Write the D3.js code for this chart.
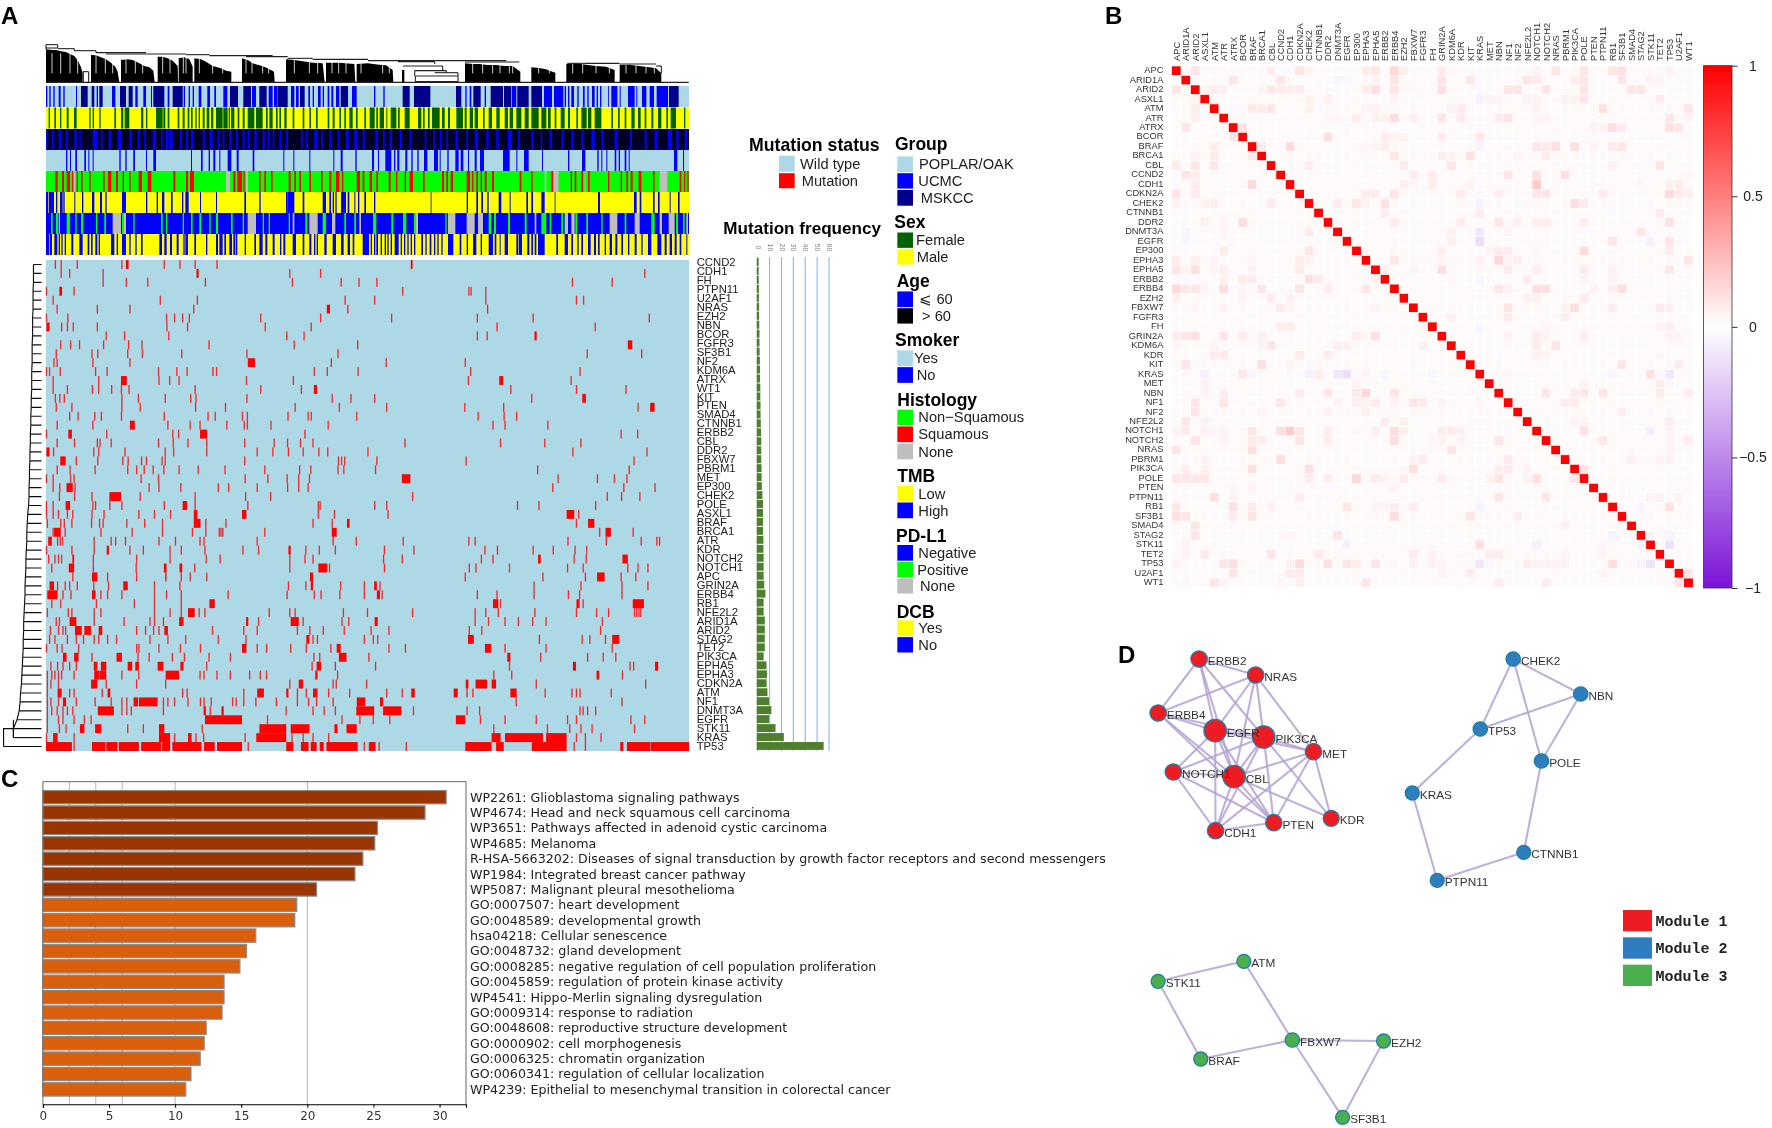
<!DOCTYPE html>
<html><head><meta charset="utf-8">
<script src="https://cdnjs.cloudflare.com/ajax/libs/d3/7.8.5/d3.min.js"></script>
<style>html,body{margin:0;padding:0;background:#fff}svg{display:block}text{font-family:"Liberation Sans",Arial,sans-serif}</style>
</head><body><svg id="c" width="1772" height="1128"></svg>
<script>
// ---------- Panel A data ----------
const heatGenes=["CCND2","CDH1","FH","PTPN11","U2AF1","NRAS","EZH2","NBN","BCOR","FGFR3","SF3B1","NF2","KDM6A","ATRX","WT1","KIT","PTEN","SMAD4","CTNNB1","ERBB2","CBL","DDR2","FBXW7","PBRM1","MET","EP300","CHEK2","POLE","ASXL1","BRAF","BRCA1","ATR","KDR","NOTCH2","NOTCH1","APC","GRIN2A","ERBB4","RB1","NFE2L2","ARID1A","ARID2","STAG2","TET2","PIK3CA","EPHA5","EPHA3","CDKN2A","ATM","NF1","DNMT3A","EGFR","STK11","KRAS","TP53"];
const mutationFreq=[.8,.8,.9,1,1,1.2,1.2,1.3,1.5,1.5,1.6,1.8,2,2,2.2,2.2,2.4,2.4,2.6,2.8,3,3,3,3.2,3.3,3.5,4,4.5,4.5,4.5,4.5,4.8,4.8,5,5,5,5.5,6.5,5,5,6,6,6,6,5,7.4,7.8,7.5,8.2,9.5,11.5,9.5,15,22,55.5];
const freqTicks=[0,10,20,30,40,50,60];
// sample positions along the ordered cohort; a number is one sample, a pair is a run of samples
const mutationRuns=[
[123,136,172,272,[281,287],367,402,436,485,[919,923]],
[136,155,230,[439,444],648,717,1443],
[230,282,330,459,654,763,803,843,1281,1370],
[103,[132,138],165,901,1049,1054,1087],
[118,358,441,772,838,1087,1290,1306],
[127,217,290,433,[731,738],778,1091],
[103,151,372,390,408,423,583,717,876,1068,1193,1453],
[[103,110],137,150,163,217,373,419,593,696,1112,1332],
[237,278,377,641,680,1068,1090,[1196,1201]],
[135,157,177,231,287,317,467,658,800,[1405,1415]],
[125,205,218,285,318,406,552,756,1314,1436],
[120,127,207,290,[554,570],741,864,1041],
[103,110,134,213,239,354,395,418,476,484,703,732,801,1053,1298],
[118,220,[270,283],355,379,400,551,656,1048,[1117,1126],1278],
[118,150,206,220,249,271,288,436,583,674,[702,709],1143,1290,1401],
[123,133,143,272,309,369,426,438,552,743,785,838,1190,[1303,1311]],
[125,160,272,313,437,504,660,759,865,1040,1127,1428,[1455,1465]],
[155,174,211,226,271,367,465,481,542,553,644,689,696,798,1070,1128,1156],
[127,207,[290,301],375,425,447,507,546,553,606,734,1103,1130,1226],
[103,[152,160],238,386,399,[447,463],682,1390,1427],
[127,166,217,223,248,354,387,420,462,547,613,643,672,700,906,1120,1219,1300],
[[103,110],119,209,220,279,369,388,462,575,610,645,678,713,733,823,1282,1448],
[[134,146],170,218,274,286,316,327,362,369,547,757,764,771,843,1043,1419],
[127,156,212,285,305,322,342,366,400,443,503,592,670,695,756,769,840,1203,1408],
[103,118,157,165,315,354,548,599,642,668,692,[899,918],1249,1337,1375,1403],
[118,133,[148,162],167,333,355,404,488,511,575,643,668,689,1237,1396,1466],
[132,166,205,[244,270],313,436,549,605,923,1359,1391,1432],
[103,118,[146,156],207,213,245,272,367,[408,418],436,554,712,716,838,865,1158,1206,1333],
[103,118,130,150,162,205,232,310,345,381,[433,441],[541,551],712,748,868,[1268,1285],1295],
[105,135,143,160,204,222,230,283,323,363,[433,448],460,505,700,743,[776,782],[1316,1330],1290],
[118,[120,135],145,225,295,363,430,460,490,494,498,592,[742,753],1342,[1355,1367],1417],
[[107,115],128,134,139,210,248,258,280,355,392,447,456,575,745,797,902,1049,1063,1271,1357,1435,1470,1476],
[103,160,210,[238,243],290,320,380,405,458,543,578,[645,650],684,714,750,860,926,1085,1113,1193,1238,1287,1313],
[108,122,130,137,[161,165],208,305,380,461,492,648,682,700,858,900,1077,1103,[1204,1210],1285,1312,[1393,1405]],
[115,[153,165],208,304,[366,372],[401,407],435,648,[712,732],737,860,1050,1065,1140,1270,1305,1405,1428,1450],
[162,[205,217],240,305,[369,372],405,425,462,[693,700],1041,1215,[1336,1353],1423,1390,1310],
[[110,120],128,145,155,172,209,242,[275,285],345,402,645,684,[695,700],762,815,[837,843],850,1195,1300,1392,1450],
[[105,128],140,158,[205,213],225,240,272,345,372,405,510,642,703,718,760,815,[843,850],855,1068,1112,1195,1272,1297,1392],
[115,135,215,300,345,405,[468,480],[1103,1115],1120,[1290,1297],1305,[1416,1441]],
[105,152,160,210,225,345,380,405,[420,435],445,458,602,648,660,768,822,923,1063,1087,1115,1197,1290,1335,1362,1420,1425,1430,1434],
[125,132,[155,170],210,277,335,345,365,[400,410],[550,555],578,[650,668],678,765,780,[838,845],1063,1093,1130,1160,1192,1222,1348],
[112,130,140,146,[167,182],[188,203],[220,228],305,325,343,355,[367,375],475,545,575,665,693,723,770,830,870,1050,1078,1344],
[110,122,150,170,186,210,220,240,260,335,375,415,488,550,[685,692],700,710,815,835,845,[1047,1060],1207,1303,1320,1355,[1370,1386]],
[103,127,138,175,305,310,355,403,448,[541,551],575,596,650,685,740,[753,762],870,907,[1085,1099],1130,1222,1370],
[[140,148],[165,175],205,[260,272],308,333,385,412,467,515,702,715,[758,775],825,[1135,1142],1210,1315,1350,1378],
[113,128,140,155,170,[209,217],[225,237],[285,295],[302,310],[352,365],[403,410],462,698,[708,718],750,840,1140,[1282,1289],1410,1418,[1466,1473]],
[105,115,122,130,137,165,[210,222],[223,237],272,310,[370,400],447,456,485,515,558,582,596,[705,710],755,1105,1145,[1335,1341],1393],
[105,113,130,[203,217],237,305,370,648,[668,678],745,752,820,[1042,1048],[1064,1090],[1100,1110],1200,1445],
[105,[128,137],155,165,228,[240,246],408,418,545,[575,590],[640,645],665,685,[700,710],735,782,865,900,[920,928],[1015,1024],1045,1058,[1142,1156],1220,1280,1290,1298,1368],
[105,113,130,[140,147],170,212,248,272,283,[298,308],[310,352],365,375,390,420,448,456,472,520,528,545,572,618,665,690,708,745,[798,817],[850,857],1155,1392],
[105,115,127,140,150,162,[218,254],272,283,293,365,[455,460],470,[495,500],640,700,725,750,[797,837],[857,898],925,1045,1073,1298,1305,1315,1333],
[105,130,140,165,188,203,[458,541],598,765,805,835,872,[1020,1041],1075,1130,1200,1270,1290,1412,1443],
[105,132,147,[178,188],[212,226],285,320,[355,367],452,[580,640],[650,692],[748,755],[775,798],1105,1225,1275,1300,1325,1420],
[103,[118,128],165,[355,380],390,[420,428],438,455,548,[573,640],653,678,700,735,[1100,1120],[1130,1215],[1222,1268],1290,1310,1345],
[[102,160],165,[205,235],[237,262],[265,310],[315,360],[362,380],[385,450],[456,480],[485,541],555,[640,656],[673,690],[695,708],[715,724],[730,800],815,[825,840],848,909,[1041,1100],[1110,1127],[1190,1268],1285,1310,[1388,1395],[1403,1455],[1456,1542]]
];
const rowMerge=[75,75,75,74,74,74,73,73,73,72,72,72,71,71,71,70,70,69,69,68,68,67,67,66,66,65,65,64,62,61,60,60,59,58,58,57,56,56,55,54,53,53,52,52,51,50,49,48,46,45,43,38,30,30,8];

// annotation stripes: start,end pairs, left half then right half of the cohort
const groupNavyL=[105,125,137,145,160,170,222,240,248,260,322,355,380,410,552,576,592,615,640,662,696,725,762,776,884,906];
const groupNavyR=[104,125,138,187,264,280,316,338,368,405,408,430,448,482,490,522,903,932];
const groupBlueL=[0,4,10,14,22,26,38,44,52,56,90,93,152,156,198,208,268,275,292,300,315,318,365,370,413,417,428,432,440,444,458,466,484,492,505,510,532,544,618,630,668,680,684,695,735,745,750,758,787,792,800,804,816,824,830,834,845,850,856,862,870,880,918,932];
const groupBlueR=[18,22,46,50,292,296,305,310,350,354,432,445,528,552,558,586,590,594,600,604,610,618,628,632,645,650,658,662,672,680,686,690,696,700,720,722,730,748,755,758,780,800,805,808,822,835,845,858,866,900];
const sexL=[8,12,25,30,42,46,62,68,84,92,130,134,140,144,160,164,205,210,225,232,236,250,285,292,300,304,330,350,352,358,365,370,395,400,410,416,425,430,435,440,448,452,458,462,470,476,482,490,495,502,510,530,532,545,548,552,555,565,575,580,590,596,605,625,630,650,660,665,670,680,690,695,700,705,715,722,740,745,770,775,790,795,810,815,845,850,860,866,880,885,895,900,910,920,930,935,955,960];
const sexR=[5,20,25,30,35,48,55,58,68,85,90,95,110,125,150,160,165,170,180,185,192,215,222,230,240,246,265,285,290,296,305,315,320,330,345,350,362,372,385,395,410,420,425,435,445,460,470,482,490,512,520,535,540,548,560,565,578,590,600,606,625,630,640,656,660,670,680,700,730,735,750,755,770,775,790,800,810,818,830,835,850,856,870,880,895,900,908,924,948,952];
const ageL=[0,5,18,22,38,45,60,65,85,92,100,104,140,154,165,170,188,195,215,225,250,258,275,282,295,300,320,330,345,350,360,368,372,380,402,408,420,426,435,442,470,476,490,500,515,520,530,535,550,556,570,576,590,596,605,610,625,632,650,656,665,670,680,685,700,706,720,726,765,770,780,785,805,815,825,830,850,856,875,880,900,908,925,935,950,956];
const ageR=[22,30,45,50,65,72,95,102,125,130,170,175,195,200,215,220,235,240,262,270,295,300,320,330,355,362,385,392,420,432,450,456,490,495,518,522,545,552,580,586,610,616,640,646,670,680,700,706,740,748,785,792,830,836,860,868,900,912,925,932,950,958];
const smokerL=[60,64,72,75,88,93,115,120,127,130,140,143,220,224,238,242,262,267,300,303,322,330,435,438,465,470,488,492,502,508,520,523,545,556,572,578,620,625,712,715,742,745,790,793,862,865,884,890,928,932];
const smokerR=[12,18,30,33,52,70,78,82,88,94,112,118,130,134,148,152,168,178,198,210,215,218,238,242,262,272,278,286,300,303,320,326,336,348,405,425,445,448,468,482,522,525,600,604,642,652,688,692,700,703,715,718,740,745,752,756,770,775,782,785,918,928,945,948];
const histRedL=[28,35,48,54,62,72,78,84,92,96,105,110,130,134,172,176,186,196,210,216,230,234,250,254,278,288,305,316,382,388,420,426,432,444,562,568,574,588,592,596,640,644,655,660,675,680,728,734,745,750,760,765,790,795,825,830,850,856,870,880,888,892,932,942,950,955];
const histRedR=[5,12,25,30,62,68,84,88,110,114,125,135,165,170,222,228,235,240,248,255,296,306,312,316,325,330,338,342,350,356,372,378,455,460,490,494,550,556,608,612,620,625,640,645,660,665,720,724,758,762,775,780,788,794,812,820,855,860,935,940,948,952,958,962];
const histGrayL=[82,88,540,552,600,606];
const histGrayR=[530,535,556,572,650,652,875,898];
const tmbL=[0,6,8,24,30,34,42,50,52,56,85,88,108,112,138,145,162,168,178,182,228,240,300,304,332,336,348,355,375,380,408,412,418,428,462,465,510,513,595,600,640,644,720,724,724,745,770,775,830,840,850,855,860,864,868,872,885,900,905,910,925,928,936,940,955,960];
const tmbR=[18,22,188,190,296,300,325,330,340,345,358,362,392,400,425,428,475,480,490,495,520,530,560,562,690,696,798,806,815,820,855,860,870,875,905,908,930,935];
const pdGreenL=[15,20,30,36,62,72,88,92,105,112,150,154,175,180,208,212,228,232,262,266,345,350,360,364,410,414,435,440,460,466,490,494,510,516,555,560,590,594,610,622,650,654,668,672,728,732,778,784,830,840,895,900,925,930];
const pdGreenR=[15,25,70,76,105,115,138,142,232,236,300,308,362,370,378,384,420,426,470,476,520,535,545,550,580,585,622,628,655,660,700,704,740,744,770,775,850,860,924,930,945,950];
const pdGrayL=[38,42,200,225,232,240,605,630,740,745,790,815,858,868,940,945];
const pdGrayR=[142,150,240,262,296,320,330,345,500,505,590,600,610,620,725,748,800,815,875,882,902,920,955,960];
const dcbL=[0,10,12,18,25,30,30,34,38,42,46,50,56,60,76,82,100,110,125,130,135,140,148,154,158,162,195,205,212,216,228,240,250,254,268,272,285,290,340,348,355,362,372,378,392,398,412,416,418,426,445,450,480,484,510,516,520,530,535,540,550,558,562,568,570,574,596,600,625,630,640,650,658,664,680,686,702,706,712,718,740,750,770,775,790,796,804,808,812,816,835,842,860,870,885,893,905,912,920,925,950,966];
const dcbR=[0,3,8,12,18,22,25,30,38,42,50,54,58,62,68,72,80,92,98,102,108,112,118,122,128,132,138,142,160,165,172,176,185,190,198,202,208,212,220,224,240,256,275,280,296,300,315,325,338,342,362,375,380,385,395,398,410,420,445,450,452,462,478,484,490,495,500,505,510,530,565,570,590,600,610,615,628,632,640,645,660,668,678,684,690,695,710,714,725,732,742,748,760,765,780,784,800,806,820,824,840,850,868,880,890,896,905,912,920,926,935,940,955,958];
const tracks=[
 {base:"#add8e6",layers:[["#0000ff",groupBlueL,groupBlueR],["#00008b",groupNavyL,groupNavyR]]},
 {base:"#ffff00",layers:[["#006400",sexL,sexR]]},
 {base:"#000028",layers:[["#0000ff",ageL,ageR]]},
 {base:"#add8e6",layers:[["#0000ff",smokerL,smokerR]]},
 {base:"#00ff00",layers:[["#ff0000",histRedL,histRedR],["#bebebe",histGrayL,histGrayR]]},
 {base:"#ffff00",layers:[["#0000ff",tmbL,tmbR]]},
 {base:"#0000ff",layers:[["#00ff00",pdGreenL,pdGreenR],["#bebebe",pdGrayL,pdGrayR]]},
 {base:"#ffff00",layers:[["#0000ff",dcbL,dcbR]]}
];
// column dendrogram: top profile of each black cluster (x,height pairs, half-cohort units, 1932 = full width)
const dendroMasses=[
 [0,28,18,30,30,30,45,34,60,36,72,42,85,48,96,62,105,82,110,100,110,127,0,127],
 [135,45,150,46,165,52,180,58,195,68,208,80,215,95,220,127,135,127],
 [225,60,245,58,260,60,280,70,295,78,310,82,322,92,326,127,225,127],
 [335,50,350,50,365,55,380,62,395,78,396,127,335,127],
 [398,55,415,52,430,58,440,80,440,127,398,127],
 [445,55,465,58,480,65,500,78,525,85,540,92,556,95,556,127,445,127],
 [588,55,605,60,620,70,648,78,665,85,684,95,686,127,588,127],
 [720,58,745,60,770,64,800,68,830,70,836,127,720,127],
 [840,68,880,68,925,72,928,127,840,127],
 [932,72,965,70,1000,74,1020,76,1040,90,1042,127,932,127],
 [1068,90,1075,90,1075,127,1068,127],
 [1257,70,1280,72,1300,72,1325,75,1350,75,1375,78,1400,78,1423,95,1423,127,1257,127],
 [1456,82,1480,84,1500,88,1515,94,1528,98,1528,127,1456,127],
 [1561,72,1590,70,1620,74,1650,78,1680,80,1706,90,1706,127,1561,127],
 [1721,75,1750,74,1780,78,1810,82,1830,85,1846,100,1846,127,1721,127]
];
const dendroLinks=[
 [0,14,35,14],[0,14,0,28],[35,14,35,24],[0,24,35,24],[35,26,85,26],[85,26,85,32],[85,32,150,32],[150,32,150,38],[110,95,128,95],[128,95,128,127],[112,95,112,127],
 [150,38,300,38],[180,42,420,42],[420,44,490,44],[490,47,680,47],[600,50,725,50],[725,55,800,55],[800,58,966,58],[966,62,1381,62],[1056,65,1166,65],[1166,65,1166,72],
 [1071,78,1190,78],[1190,78,1190,92],[1106,92,1201,92],[1166,98,1236,98],[1236,98,1236,127],[1108,108,1236,108],[1108,108,1108,125],[1108,125,1236,125],[1106,92,1106,108],[1201,92,1201,98],
 [1564,70,1620,70],[1620,70,1720,70],[1720,72,1830,72],[1830,78,1846,78],[1846,78,1846,100],[0,127,1928,127],[1257,66,1420,66]
];
const dendroGaps=[18,44,72,95,112,150,178,200,240,268,290,350,372,412,420,460,500,530,600,618,650,668,745,790,815,858,878,900,945,1010,1030,1100,1280,1310,1340,1362,1390,1400,1478,1510,1580,1610,1650,1690,1740,1770,1800,1825];
const legendBlocks=[
 {title:"Group",tx:645,ty:85,items:[["POPLAR/OAK","#add8e6",102,146,717],["UCMC","#0000ff",149,192,715],["MSKCC","#00008b",196,240,722]]},
 {title:"Sex",tx:643,ty:303,items:[["Female","#006400",315,358,708],["Male","#ffff00",362,405,710]]},
 {title:"Age",tx:650,ty:467,items:[["⩽ 60","#0000ff",480,524,718],["> 60","#000000",527,570,726]]},
 {title:"Smoker",tx:645,ty:632,items:[["Yes","#add8e6",645,689,702],["No","#0000ff",692,736,710]]},
 {title:"Histology",tx:652,ty:802,items:[["Non−Squamous","#00ff00",811,854,715],["Squamous","#ff0000",858,902,715],["None","#bebebe",906,950,715]]},
 {title:"TMB",tx:652,ty:1014,items:[["Low","#ffff00",1024,1068,715],["High","#0000ff",1071,1115,715]]},
 {title:"PD-L1",tx:648,ty:1182,items:[["Negative","#0000ff",1190,1234,715],["Positive","#00ff00",1237,1281,712],["None","#bebebe",1284,1326,720]]},
 {title:"DCB",tx:650,ty:1393,items:[["Yes","#ffff00",1401,1445,715],["No","#0000ff",1448,1491,715]]}
];

// ---------- Panel B data ----------
const corrGenes=["APC","ARID1A","ARID2","ASXL1","ATM","ATR","ATRX","BCOR","BRAF","BRCA1","CBL","CCND2","CDH1","CDKN2A","CHEK2","CTNNB1","DDR2","DNMT3A","EGFR","EP300","EPHA3","EPHA5","ERBB2","ERBB4","EZH2","FBXW7","FGFR3","FH","GRIN2A","KDM6A","KDR","KIT","KRAS","MET","NBN","NF1","NF2","NFE2L2","NOTCH1","NOTCH2","NRAS","PBRM1","PIK3CA","POLE","PTEN","PTPN11","RB1","SF3B1","SMAD4","STAG2","STK11","TET2","TP53","U2AF1","WT1"];
const corrBackground=0.02;
// upper triangle, by row: column index, correlation, column index, correlation ...
const corrUpper=[
[2,.1,10,.07,11,-.02,12,-.02,13,.1,14,.05,20,.08,21,.1,23,.15,24,.06,28,.08,29,.03,30,.02,32,-.02,38,.05,40,.1,43,.1,46,.1,47,.12,52,.05],
[6,.1,11,.1,17,-.05,18,-.04,21,.05,23,.1,28,.1,31,.1,37,.1,38,.08,42,.07,43,.1,47,.1,50,.05,51,.05,54,-.03],
[3,.05,4,.07,5,.06,9,.05,10,.1,11,.08,12,.07,13,.08,20,.07,21,.12,23,.1,25,.04,28,.12,32,-.02,35,.1,36,.1,39,.1,43,.1,48,.1,49,.1],
[14,.06,16,.06,23,.05,32,-.06,33,.05,34,.05,37,.05,38,.05,41,.05,42,.05,43,.1,51,.08],
[6,-.02,8,.08,9,.08,10,.1,14,.06,15,-.02,20,.05,21,.05,29,.05,30,.08,38,.05,45,.12,52,-.02,54,.1],
[16,.04,17,.04,19,.07,21,.06,22,.06,23,.13,25,.06,28,.1,30,.08,34,.07,35,.1,38,.05,39,.05,52,.1,54,.05],
[7,.1,18,-.03,23,-.02,24,-.02,44,.05,45,.05,46,.12,47,.08,51,-.02,52,.12,53,.1],
[16,.13,22,.08,23,.05,24,.05,28,.08,32,.1],
[9,.08,12,.14,19,.03,20,.04,21,.05,22,.07,30,-.02,32,-.05,38,.1,39,.08,40,.12,42,.12,44,.05,46,.08,47,.1],
[17,-.02,23,.1,28,.06,29,.05,31,.12,36,.04,39,.08],
[14,.08,24,.08,29,.1,46,.06,51,.1],
[25,.08,27,.07,35,.1,38,.12,41,.12,51,-.02,54,.04],
[24,.06,25,.04,27,.07,31,.05,32,-.02,38,.2,49,.04,52,.06,53,.08],
[19,.02,20,.07,21,.07,23,.1,26,-.02,30,.08,34,.07,38,.1,39,.1,45,.08,52,.14,53,.08,54,.06],
[17,.08,19,.1,20,.05,22,.12,31,-.02,32,-.06,42,.12,43,.08],
[22,.08,32,.07,38,-.02,46,-.02,51,.08],
[23,.08,30,.07,34,.1,36,.06,38,.07,39,.07,43,.08,52,.12],
[29,.06,32,-.1,35,.05,44,-.02,48,-.02,49,.1],
[29,.06,32,-.14,46,.1,50,-.06,49,-.02,52,.1],
[23,.03,28,.07,33,.05,34,.08,35,.07,38,.04,43,.15,52,.07],
[23,.1,28,.04,32,.05,34,.15,35,.05,36,.06,54,.1],
[22,.06,25,.05,28,.12,35,.08,38,.07,43,.08,46,.05,52,.1],
[32,-.04,37,.08,43,.05,46,.05],
[34,.1,35,.05,38,.13,39,.12,44,.05,46,.07,47,.13],
[35,.02,37,.06,38,.06,43,.08],
[35,.1,41,.05,42,.12,46,.07,51,.08,52,.06],
[29,.06,35,.08,41,.07],
[32,-.04,39,.04,51,.05,52,.06],
[35,.05,38,.08,39,.05,43,.08,44,-.02,52,.05,53,.05],
[38,.08,40,.1],
[34,-.02,38,.06,39,.05,51,.03],
[47,.1,53,.08],
[35,.04,43,-.02,45,-.02,46,-.05,50,.12,52,-.1],
[43,.05,51,.07,52,-.04],
[39,.1,42,.07,43,.1,45,.1,51,.07,54,.07],
[41,.08,42,.08],
[47,.07],
[42,.05,43,.05,52,.07],
[43,.12,50,-.07,52,.05],
[45,.1,52,.05,54,.07],
[52,.05],
[48,.06,51,.05,52,.05],
[43,.1],
[],
[48,-.02],
[50,.05,51,.05,53,.05],
[49,-.05,52,.12],
[],[],
[52,-.05,50,-.06],
[52,-.12],
[],[53,.02],[54,.1],[]
];
const corrTicks=[1,.5,0,-.5,-1];

// ---------- Panel C data ----------
const pathwayLabels=["WP2261: Glioblastoma signaling pathways","WP4674: Head and neck squamous cell carcinoma","WP3651: Pathways affected in adenoid cystic carcinoma","WP4685: Melanoma","R-HSA-5663202: Diseases of signal transduction by growth factor receptors and second messengers","WP1984: Integrated breast cancer pathway","WP5087: Malignant pleural mesothelioma","GO:0007507: heart development","GO:0048589: developmental growth","hsa04218: Cellular senescence","GO:0048732: gland development","GO:0008285: negative regulation of cell population proliferation","GO:0045859: regulation of protein kinase activity","WP4541: Hippo-Merlin signaling dysregulation","GO:0009314: response to radiation","GO:0048608: reproductive structure development","GO:0000902: cell morphogenesis","GO:0006325: chromatin organization","GO:0060341: regulation of cellular localization","WP4239: Epithelial to mesenchymal transition in colorectal cancer"];
const pathwayValues=[30.5,28.9,25.3,25.1,24.2,23.6,20.7,19.2,19.05,16.1,15.4,14.9,13.7,13.7,13.55,12.35,12.2,11.9,11.2,10.8];
const pathwayGroup=[1,1,1,1,1,1,1,0,0,0,0,0,0,0,0,0,0,0,0,0];
const pathwayGrid=[2,4,6,10,20];
const pathwayTicks=[0,5,10,15,20,25,30];

// ---------- Panel D data ----------
const netNames=["ERBB2","NRAS","ERBB4","EGFR","PIK3CA","MET","NOTCH1","CBL","PTEN","KDR","CDH1","CHEK2","NBN","TP53","POLE","KRAS","CTNNB1","PTPN11","ATM","STK11","FBXW7","EZH2","BRAF","SF3B1"];
const netLayoutX=[211,345,114,249,364,482,150,294,388,524,250,955,1115,877,1022,716,980,775,317,114,432,648,215,551];
const netLayoutY=[87,135,249,302,321,365,426,440,578,565,602,87,192,297,393,489,667,751,994,1054,1230,1233,1287,1462];
const netDegree=[8,8,8,10,10,8,8,10,8,7,8,3,3,3,3,2,2,2,2,2,3,2,2,2];
const netModule=[0,0,0,0,0,0,0,0,0,0,0,1,1,1,1,1,1,1,2,2,2,2,2,2];
const netEdges=[["ERBB2","NRAS"],["ERBB2","ERBB4"],["ERBB2","EGFR"],["ERBB2","PIK3CA"],["ERBB2","CBL"],["NRAS","ERBB4"],["NRAS","EGFR"],["NRAS","PIK3CA"],["NRAS","MET"],["NRAS","CBL"],["ERBB4","EGFR"],["ERBB4","PIK3CA"],["ERBB4","CBL"],["ERBB4","PTEN"],["EGFR","PIK3CA"],["EGFR","MET"],["EGFR","NOTCH1"],["EGFR","CBL"],["EGFR","PTEN"],["EGFR","CDH1"],["PIK3CA","MET"],["PIK3CA","NOTCH1"],["PIK3CA","CBL"],["PIK3CA","PTEN"],["PIK3CA","KDR"],["PIK3CA","CDH1"],["MET","CBL"],["MET","PTEN"],["MET","KDR"],["MET","CDH1"],["NOTCH1","CBL"],["NOTCH1","PTEN"],["NOTCH1","CDH1"],["CBL","PTEN"],["CBL","KDR"],["CBL","CDH1"],["CDH1","PTEN"],
["CHEK2","NBN"],["CHEK2","TP53"],["CHEK2","POLE"],["NBN","TP53"],["NBN","POLE"],["TP53","KRAS"],["KRAS","PTPN11"],["PTPN11","CTNNB1"],["CTNNB1","POLE"],
["ATM","STK11"],["ATM","FBXW7"],["STK11","BRAF"],["BRAF","FBXW7"],["FBXW7","EZH2"],["FBXW7","SF3B1"],["EZH2","SF3B1"]];
const moduleNames=["Module 1","Module 2","Module 3"];
const moduleColors=["#ec1c24","#2f7dbf","#4cae4f"];

// ---------- drawing ----------
const svg=d3.select("#c");
const defs=svg.append("defs");
defs.append("filter").attr("id","soft").attr("x","-2%").attr("y","-2%").attr("width","104%").attr("height","104%").append("feGaussianBlur").attr("stdDeviation",.5);
defs.append("filter").attr("id","softer").attr("x",0).attr("y",0).attr("width","100%").attr("height","100%").append("feGaussianBlur").attr("stdDeviation",.28);
const root=svg.append("g").attr("filter","url(#softer)");
root.append("rect").attr("width",1772).attr("height",1128).attr("fill","#fff");

[["A",1,24],["B",1105,24],["C",1,787],["D",1118,663]].forEach(([t,x,y])=>
 root.append("text").attr("x",x).attr("y",y).attr("font-size",24).attr("font-weight","bold").attr("fill","#000").text(t));

// --- Panel A ---
const heatL=46,heatR=689,heatT=260,heatB=751;
const sampleX=d3.scaleLinear().domain([102,1542]).range([heatL,heatR]);
const rowY=d3.scaleBand().domain(d3.range(heatGenes.length)).range([heatT,heatB]);
const A=root.append("g");
const hm=A.append("g").attr("filter","url(#soft)");
hm.append("rect").attr("x",heatL).attr("y",heatT).attr("width",heatR-heatL).attr("height",heatB-heatT).attr("fill","#add8e6");
const cells=mutationRuns.flatMap((r,i)=>r.map(v=>{const run=Array.isArray(v);return {i,a:run?v:[v-1.5,v+1.5],run};}));
hm.selectAll("rect.m").data(cells).join("rect").attr("class","m").attr("fill","#ff0000").attr("fill-opacity",d=>d.run?1:.8)
 .attr("x",d=>sampleX(d.a[0])).attr("width",d=>sampleX(d.a[1])-sampleX(d.a[0]))
 .attr("y",d=>rowY(d.i)).attr("height",rowY.bandwidth());
// row dendrogram
const mergeX=d3.scaleLinear().domain([0,1568]).range([0,700]);
const rowCentre=i=>rowY(i)+rowY.bandwidth()/2;
const treeG=A.append("g").attr("fill","none").attr("stroke","#111").attr("stroke-width",1.15);
const leafEnd=mergeX(93);
treeG.selectAll("path.l").data(d3.range(heatGenes.length)).join("path").attr("class","l")
 .attr("d",i=>{const x=mergeX(rowMerge[i]),y=rowCentre(i);
   if(i>=heatGenes.length-2)return `M${x},${y}H${leafEnd}`;
   return `M${x},${y}H${leafEnd}M${x},${y}L${mergeX(rowMerge[i+1])},${rowCentre(i+1)}`;});
treeG.append("path").attr("d",`M${mergeX(rowMerge[53])},${rowCentre(53)}V${rowCentre(51)}M${mergeX(rowMerge[54])},${rowCentre(54)}V${rowCentre(52)}H${mergeX(rowMerge[53])}`);

// annotation tracks
const trackX=d3.scaleLinear().domain([0,1932]).range([46,690]);
const trackTop=[86,107.5,129,150,171,192,213,234],trackH=21;
const tg=A.append("g").attr("filter","url(#soft)");
tracks.forEach((t,k)=>{
 tg.append("rect").attr("x",heatL).attr("y",trackTop[k]).attr("width",heatR-heatL).attr("height",trackH).attr("fill",t.base);
 t.layers.forEach(([col,l,r])=>{
  const segs=[];
  for(let i=0;i<l.length;i+=2)segs.push([l[i],l[i+1]]);
  for(let i=0;i<r.length;i+=2)segs.push([r[i]+966,r[i+1]+966]);
  tg.append("g").attr("fill",col).selectAll("rect").data(segs).join("rect")
   .attr("x",d=>trackX(d[0])).attr("width",d=>Math.max(.8,trackX(d[1])-trackX(d[0])))
   .attr("y",trackTop[k]).attr("height",trackH);
 });
});
// column dendrogram
const dendY=d3.scaleLinear().domain([0,648]).range([40,256]);
const dg=A.append("g");
dg.selectAll("path.m").data(dendroMasses).join("path").attr("class","m").attr("fill","#000")
 .attr("d",p=>{let s="";for(let i=0;i<p.length;i+=2)s+=(i?"L":"M")+trackX(p[i])+","+dendY(p[i+1]);return s+"Z";});
dg.selectAll("line.g").data(dendroGaps).join("line").attr("class","g").attr("stroke","#fff").attr("stroke-width",.8)
 .attr("x1",d=>trackX(d)).attr("x2",d=>trackX(d)).attr("y1",dendY(40)).attr("y2",dendY(100));
dg.selectAll("line.k").data(dendroLinks).join("line").attr("class","k").attr("stroke","#222").attr("stroke-width",1.1)
 .attr("x1",d=>trackX(d[0])).attr("y1",d=>dendY(d[1])).attr("x2",d=>trackX(d[2])).attr("y2",d=>dendY(d[3]));

// frequency bars
const freqX=d3.scaleLinear().domain([0,60]).range([757.7,829]);
const freqY=d3.scaleBand().domain(d3.range(heatGenes.length)).range([257,751]).padding(.12);
const fg=A.append("g");
fg.selectAll("line").data(freqTicks).join("line").attr("x1",d=>freqX(d)).attr("x2",d=>freqX(d)).attr("y1",257).attr("y2",751).attr("stroke","#85b8ee").attr("stroke-width",1.1);
fg.selectAll("rect").data(mutationFreq).join("rect").attr("x",freqX(0)-1).attr("width",d=>Math.max(1,freqX(d)-freqX(0)+1)).attr("y",(d,i)=>freqY(i)).attr("height",freqY.bandwidth()).attr("fill","#4f7f2f");
const fax=fg.append("g").attr("transform","translate(0,247.5)").call(d3.axisTop(freqX).tickValues(freqTicks).tickSize(0).tickPadding(0));
fax.select(".domain").remove();
fax.selectAll("text").attr("font-size",7).attr("fill","#888").attr("text-anchor","middle").attr("x",0).attr("y",0).attr("dy","0.35em").attr("transform","rotate(90)");
// gene labels
fg.append("g").selectAll("text").data(heatGenes).join("text").attr("x",696.7).attr("y",(d,i)=>freqY(i)+freqY.bandwidth()/2).attr("dy","0.36em").attr("font-size",11.3).attr("fill","#222").text(d=>d);

// legends
const lx=p=>680+p/3,ly=p=>120+p/2.8;
const LG=A.append("g");
LG.append("text").attr("x",lx(207)).attr("y",ly(88)).attr("font-size",17.7).attr("font-weight","bold").text("Mutation status");
LG.append("text").attr("x",lx(130)).attr("y",ly(320)).attr("font-size",17.1).attr("font-weight","bold").text("Mutation frequency");
[["Wild type","#add8e6",100,145,360],["Mutation","#ff0000",149,191,365]].forEach(([t,c,a,b,x])=>{
 LG.append("rect").attr("x",lx(297)).attr("y",ly(a)).attr("width",47/3).attr("height",(b-a)/2.8).attr("fill",c);
 LG.append("text").attr("x",lx(x)).attr("y",ly((a+b)/2)).attr("dy","0.35em").attr("font-size",14.7).attr("fill","#222").text(t);
});
legendBlocks.forEach(b=>{
 LG.append("text").attr("x",lx(b.tx)).attr("y",ly(b.ty)).attr("font-size",17.5).attr("font-weight","bold").text(b.title);
 b.items.forEach(([t,c,a,e,x])=>{
  LG.append("rect").attr("x",lx(652)).attr("y",ly(a)).attr("width",47/3).attr("height",(e-a)/2.8).attr("fill",c);
  LG.append("text").attr("x",lx(x)).attr("y",ly((a+e)/2)).attr("dy","0.35em").attr("font-size",14.7).attr("fill","#222").text(t);
 });
});

// --- Panel B ---
const corrBand=d3.scaleBand().domain(corrGenes).range([1171.6,1693.2]);
const corrBandY=d3.scaleBand().domain(corrGenes).range([66,587.6]);
const corrColor=d3.scaleLinear().domain([-1,0,1]).range(["#7a14d6","#ffffff","#ff0000"]);
const corrMatrix=corrGenes.map(()=>corrGenes.map(()=>corrBackground));
corrUpper.forEach((r,i)=>{for(let k=0;k<r.length;k+=2){corrMatrix[i][r[k]]=r[k+1];corrMatrix[r[k]][i]=r[k+1];}});
corrGenes.forEach((g,i)=>corrMatrix[i][i]=1);
const B=root.append("g");
const corrCells=corrMatrix.flatMap((r,i)=>r.map((v,j)=>({i,j,v})));
B.selectAll("rect.c").data(corrCells).join("rect").attr("class","c")
 .attr("x",d=>corrBand(corrGenes[d.j])).attr("y",d=>corrBandY(corrGenes[d.i]))
 .attr("width",corrBand.bandwidth()).attr("height",corrBandY.bandwidth())
 .attr("fill",d=>corrColor(d.v)).attr("stroke","#fff").attr("stroke-width",.6);
B.append("g").selectAll("text").data(corrGenes).join("text").attr("x",1163.4).attr("y",d=>corrBandY(d)+corrBandY.bandwidth()/2-1).attr("dy","0.36em").attr("text-anchor","end").attr("font-size",9.3).attr("fill","#333").text(d=>d);
B.append("g").selectAll("text").data(corrGenes).join("text").attr("text-anchor","start").attr("font-size",9.3).attr("fill","#333")
 .attr("x",d=>corrBand(d)+corrBand.bandwidth()/2).attr("y",61).attr("dy","0.36em")
 .attr("transform",d=>`rotate(-90,${corrBand(d)+corrBand.bandwidth()/2},61)`).text(d=>d);
const gradStops=d3.range(0,1.01,.1).map(t=>({t,c:corrColor(1-2*t)}));
const grad=defs.append("linearGradient").attr("id","cbar").attr("x1",0).attr("x2",0).attr("y1",0).attr("y2",1);
grad.selectAll("stop").data(gradStops).join("stop").attr("offset",d=>d.t).attr("stop-color",d=>d.c);
const cbY=d3.scaleLinear().domain([1,-1]).range([65.7,588]);
B.append("rect").attr("x",1703.5).attr("y",65.7).attr("width",28.5).attr("height",522.3).attr("fill","url(#cbar)").attr("stroke","#333").attr("stroke-width",.8);
const cbAx=B.append("g").attr("transform","translate(1732,0)").call(d3.axisRight(cbY).tickValues(corrTicks).tickSize(5.5).tickFormat(d=>String(d).replace("-","−")));
cbAx.select(".domain").remove();
cbAx.selectAll("line").attr("stroke","#333");
cbAx.selectAll("text").attr("font-size",14).attr("fill","#222").attr("text-anchor","middle").attr("x",21);

// --- Panel C ---
const cX=d3.scaleLinear().domain([0,32]).range([42.9,466]);
const cY=d3.scaleBand().domain(d3.range(pathwayLabels.length)).range([789.6,1097]).paddingInner(.135).paddingOuter(.06);
const C=root.append("g");
C.selectAll("line.g").data(pathwayGrid).join("line").attr("class","g").attr("x1",d=>cX(d)).attr("x2",d=>cX(d)).attr("y1",781.7).attr("y2",1104.3).attr("stroke","#b5b5b5").attr("stroke-width",1);
C.selectAll("rect.b").data(pathwayValues).join("rect").attr("class","b").attr("x",cX(0)).attr("width",d=>cX(d)-cX(0))
 .attr("y",(d,i)=>cY(i)).attr("height",cY.bandwidth()).attr("fill",(d,i)=>pathwayGroup[i]?"#993404":"#d95f0e").attr("stroke","#8a8a8a").attr("stroke-width",1.2);
C.append("path").attr("d","M42.9,1104.3V781.7H466V1104.3").attr("fill","none").attr("stroke","#666").attr("stroke-width",1);
const cAx=C.append("g").attr("transform","translate(0,1104.3)").call(d3.axisBottom(cX).tickValues(pathwayTicks).tickSize(3.5).tickPadding(4));
cAx.select(".domain").attr("stroke","#000").attr("stroke-width",1.1);
cAx.selectAll("text").attr("font-size",12).attr("fill","#333").style("font-family","'DejaVu Sans'");
C.append("g").selectAll("text").data(pathwayLabels).join("text").attr("x",470).attr("y",(d,i)=>cY(i)+cY.bandwidth()/2).attr("dy","0.35em").attr("font-size",12.65).attr("fill","#222").style("font-family","'DejaVu Sans'").text(d=>d);

// --- Panel D ---
const netX=d3.scaleLinear().domain([0,1568]).range([1110,1772]);
const netY=d3.scaleLinear().domain([0,1494]).range([630,1128]);
const netR=d3.scaleLinear().domain([2,8,10]).range([7,8.2,11.2]);
const nodes=new Map(netNames.map((n,i)=>[n,{n,x:netX(netLayoutX[i]),y:netY(netLayoutY[i]),r:netR(netDegree[i]),m:netModule[i]}]));
const D=root.append("g");
D.selectAll("line").data(netEdges).join("line").attr("x1",d=>nodes.get(d[0]).x).attr("y1",d=>nodes.get(d[0]).y).attr("x2",d=>nodes.get(d[1]).x).attr("y2",d=>nodes.get(d[1]).y).attr("stroke","#b3a2d2").attr("stroke-opacity",.85).attr("stroke-width",2.1);
const nd=[...nodes.values()];
D.selectAll("circle").data(nd).join("circle").attr("cx",d=>d.x).attr("cy",d=>d.y).attr("r",d=>d.r).attr("fill",d=>moduleColors[d.m]).attr("stroke","#1f7f9f").attr("stroke-width",1.3);
D.selectAll("text").data(nd).join("text").attr("x",d=>d.x+d.r+.5).attr("y",d=>d.y+2).attr("dy","0.35em").attr("font-size",11.8).attr("fill","#333").text(d=>d.n);
const modY=d3.scaleBand().domain(moduleNames).range([910,986]).paddingInner(.22);
D.append("g").selectAll("rect").data(moduleNames).join("rect").attr("x",1623).attr("y",d=>modY(d)).attr("width",29).attr("height",modY.bandwidth()).attr("fill",(d,i)=>moduleColors[i]);
D.append("g").selectAll("text").data(moduleNames).join("text").attr("x",1655.5).attr("y",d=>modY(d)+modY.bandwidth()/2).attr("dy","0.35em").attr("font-size",15).attr("font-weight","bold").attr("fill","#222").style("font-family","'Liberation Mono'").text(d=>d);
</script></body></html>
